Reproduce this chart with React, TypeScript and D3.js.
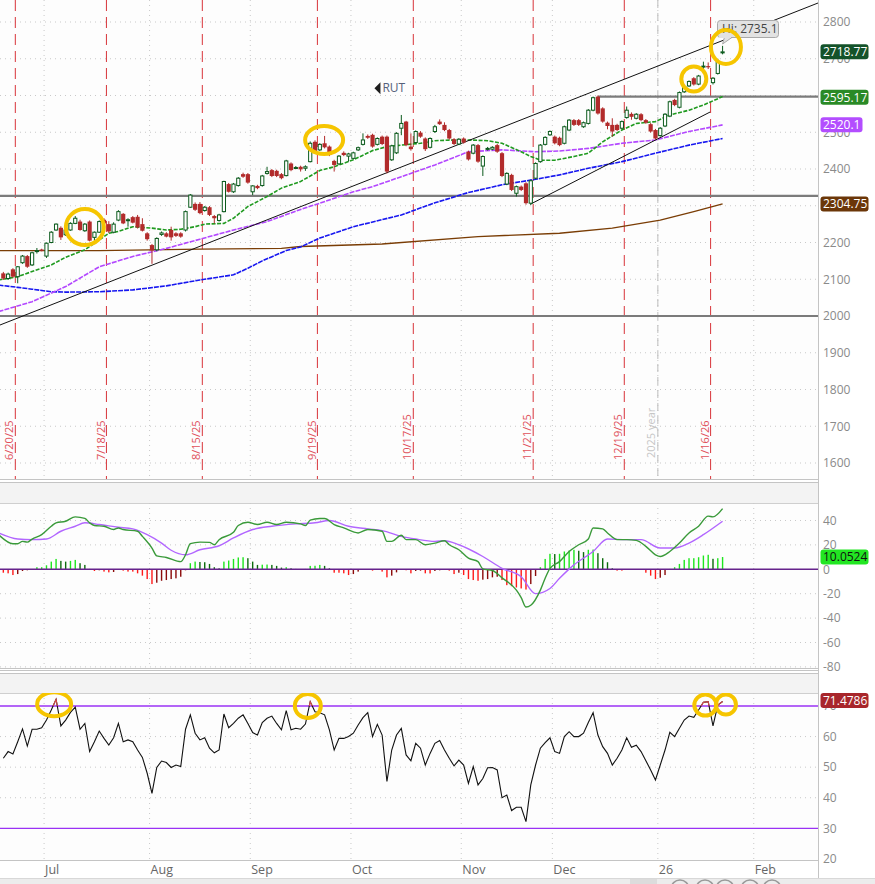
import React from "react";
import * as d3 from "d3";

// ---------- DATA ----------
const opens = [2116,2102,2127,2107,2145,2163,2139,2176,2181,2163,2200,2234,2240,2221,2234,2252,2257,2232,2257,2214,2228,2262,2250,2228,2261,2278,2261,2269,2270,2250,2225,2193,2180,2222,2225,2234,2225,2225,2234,2296,2305,2305,2287,2296,2272,2260,2284,2359,2338,2355,2386,2386,2338,2354,2355,2388,2397,2395,2386,2382,2415,2404,2406,2402,2420,2474,2452,2470,2461,2422,2414,2444,2435,2429,2452,2467,2490,2493,2467,2488,2488,2425,2444,2511,2529,2461,2472,2499,2483,2459,2502,2529,2520,2506,2481,2468,2483,2447,2443,2465,2408,2455,2454,2465,2443,2359,2384,2334,2352,2361,2307,2375,2420,2467,2493,2488,2485,2470,2506,2533,2533,2515,2524,2560,2597,2565,2526,2520,2520,2511,2540,2550,2538,2549,2533,2522,2506,2491,2517,2544,2588,2568,2610,2626,2647,2631,2678,2680,2635,2660,2716];
const highs = [2120,2118,2130,2136,2166,2166,2175,2185,2183,2200,2231,2252,2244,2238,2255,2272,2262,2253,2260,2230,2260,2266,2258,2255,2288,2280,2266,2272,2275,2266,2228,2196,2214,2230,2228,2243,2228,2228,2287,2332,2309,2310,2299,2299,2275,2278,2368,2362,2362,2378,2390,2389,2356,2357,2384,2406,2400,2398,2389,2425,2418,2408,2409,2410,2475,2478,2470,2490,2464,2425,2438,2448,2444,2447,2461,2497,2494,2496,2486,2491,2491,2466,2500,2547,2531,2497,2505,2503,2486,2486,2520,2535,2527,2509,2484,2484,2486,2450,2468,2468,2437,2460,2462,2468,2446,2391,2387,2355,2355,2364,2371,2418,2468,2489,2505,2491,2488,2518,2536,2536,2536,2529,2563,2597,2600,2568,2529,2538,2523,2532,2570,2554,2552,2552,2536,2525,2509,2514,2552,2586,2591,2611,2627,2641,2650,2656,2692,2690,2650,2700,2735.1];
const lows = [2098,2098,2104,2089,2142,2131,2136,2170,2176,2158,2198,2232,2207,2218,2232,2250,2232,2229,2203,2205,2226,2250,2226,2225,2258,2250,2243,2252,2238,2230,2205,2142,2176,2218,2214,2205,2215,2213,2230,2294,2286,2277,2284,2272,2252,2257,2282,2336,2335,2352,2376,2360,2329,2345,2352,2385,2378,2378,2372,2380,2394,2400,2393,2395,2418,2441,2449,2456,2435,2393,2411,2435,2420,2426,2449,2464,2482,2458,2464,2465,2388,2422,2441,2492,2462,2450,2469,2485,2449,2456,2498,2520,2503,2480,2465,2465,2469,2423,2440,2417,2381,2450,2451,2444,2378,2356,2340,2325,2340,2303,2302,2372,2417,2464,2490,2467,2462,2467,2503,2517,2517,2512,2521,2557,2548,2526,2508,2488,2503,2508,2537,2534,2535,2530,2523,2499,2480,2488,2514,2541,2571,2565,2607,2623,2627,2628,2669,2672,2630,2657,2712];
const closes = [2102,2114,2107,2134,2163,2134,2172,2178,2178,2198,2228,2250,2214,2234,2252,2266,2234,2250,2205,2228,2257,2252,2230,2250,2284,2252,2262,2254,2241,2232,2209,2178,2211,2226,2216,2214,2218,2216,2284,2329,2289,2280,2296,2275,2266,2275,2366,2338,2359,2375,2379,2363,2354,2348,2381,2393,2381,2381,2375,2422,2397,2404,2399,2406,2470,2444,2467,2459,2438,2411,2435,2438,2441,2444,2458,2479,2485,2461,2483,2468,2393,2463,2497,2524,2465,2454,2502,2488,2454,2483,2515,2522,2506,2483,2468,2481,2472,2426,2465,2420,2434,2456,2459,2447,2381,2388,2343,2352,2343,2307,2368,2415,2465,2486,2502,2470,2465,2515,2533,2520,2520,2526,2560,2594,2551,2529,2517,2502,2506,2529,2560,2542,2549,2533,2526,2502,2483,2511,2549,2583,2574,2608,2624,2638,2630,2653,2680,2678,2647,2692,2718.77];

const rsiValues = [52.9,55.1,54.3,58.3,62.5,56.9,62.4,62.4,62.9,65.4,68.7,72.2,63.5,65.4,67.9,69.6,62.4,64.3,55.1,58.3,61.8,59.4,57.2,59.6,64.3,58.3,58.9,58.3,55.6,53.2,48.0,41.4,49.9,52.0,51.5,49.9,50.7,50.2,62.4,67.1,61.1,58.9,59.6,56.2,54.7,55.6,67.4,62.9,64.3,66.0,67.1,64.3,61.3,60.5,64.6,66.0,66.7,64.3,62.2,68.5,62.2,62.7,62.4,64.1,71.4,68.1,67.8,67.1,62.2,55.6,59.4,59.4,60.0,61.1,63.8,66.2,67.8,60.0,64.0,60.5,45.3,55.6,60.5,62.7,54.0,52.1,57.8,56.2,50.7,54.5,57.8,58.7,55.6,52.9,50.4,52.3,50.7,44.7,50.2,44.2,46.3,49.8,49.9,49.1,40.0,40.9,35.8,36.9,36.9,32.2,44.2,50.7,56.2,58.0,59.6,55.1,54.5,60.0,61.6,60.0,60.0,61.1,64.6,67.8,60.5,56.7,54.5,50.7,52.9,55.6,59.6,56.5,57.2,55.1,52.1,49.1,45.8,50.7,55.6,61.4,60.0,62.7,65.4,66.7,66.3,68.7,71.2,71.4,63.5,70.3,71.4786];

const macdHist = [-2.8,-3.3,-4.7,-3.9,-1.4,-0.8,0.2,1.7,1.7,3.3,6.3,8.5,6.9,6.3,6.9,7.7,5.0,3.6,0.3,-1.4,-0.8,-1.9,-2.5,-2.2,-0.3,-1.1,-1.9,-1.9,-3.3,-5.2,-8.0,-12.1,-11.0,-9.4,-8.8,-8.0,-7.4,-6.1,-0.8,5.0,6.3,6.0,5.8,4.4,1.7,0.8,6.3,7.2,8.5,9.7,9.9,9.1,6.3,3.6,3.8,3.9,3.6,2.8,1.4,1.7,0.8,0.3,0.2,0.3,2.8,2.9,3.6,2.8,0.8,-2.8,-2.8,-3.3,-4.7,-3.9,-1.9,-0.5,-0.3,-1.1,-0.5,-1.9,-6.6,-5.2,-2.5,-0.5,-0.8,-3.3,-1.4,-1.1,-3.3,-3.4,-1.4,-0.8,-0.3,-1.1,-3.9,-2.8,-4.7,-8.0,-8.8,-9.4,-8.5,-8.0,-6.6,-6.1,-8.8,-13.0,-13.8,-14.9,-15.7,-16.6,-12.1,-5.5,1.7,8.5,12.7,12.5,12.7,14.6,15.4,16.0,15.2,14.1,16.0,16.2,13.2,9.1,5.8,0.8,-1.1,-1.1,-0.2,-0.1,0.1,-0.3,-2.8,-5.2,-8.0,-6.9,-4.7,0.3,1.7,4.4,7.7,9.1,9.1,9.9,11.3,11.9,8.6,9.1,10.0524];

const macdLine = [[-1,28.4],[2,21.0],[3,21],[4,22.9],[5,22.3],[6,24.8],[8,28.4],[10,35.3],[11,38.1],[13,39.4],[15,43.0],[17,41.7],[18,38.1],[19,35.9],[21,35.3],[23,32.6],[24,33.9],[25,32.6],[28,31.2],[29,27.0],[31,17.4],[32,11.0],[34,9.7],[37,6.3],[38,11.9],[39,21.0],[41,22.3],[43,22.1],[44,20.1],[45,24.3],[48,30.3],[49,35.9],[51,38.6],[53,36.7],[55,38.6],[57,36.7],[59,38.6],[62,37.2],[63,35.9],[64,40.3],[66,41.7],[67,41.7],[69,36.7],[71,33.9],[74,29.8],[76,32.6],[79,31.2],[80,22.9],[81,22.9],[83,27.9],[84,24.3],[86,24.3],[88,20.1],[90,21.5],[92,23.4],[93,20.1],[95,16.0],[97,9.1],[99,6.3],[100,0.3],[102,-1],[104,-7],[107,-17.1],[108,-23.2],[109,-30.9],[110,-29.5],[112,-17.1],[113,-7.4],[114,0.8],[116,6.3],[118,14.6],[120,20.1],[122,24.8],[123,33.9],[125,33.1],[126,29.8],[128,24.3],[130,24.3],[132,23.7],[134,18.8],[136,11.9],[137,10.5],[139,14.6],[141,21.5],[143,29.8],[145,35.3],[147,43.6],[148,43.0],[150,49.7]];
const signalLine = [[-1,29.8],[3,24.8],[6,24.3],[9,24.8],[12,31.2],[15,35.3],[17,38.1],[20,36.7],[24,34.5],[27,33.1],[30,28.4],[33,21.5],[35,15.6],[38,11.9],[41,16.0],[45,19.3],[48,25.7],[52,32.6],[56,35.3],[61,37.2],[65,38.1],[68,40.0],[72,35.3],[76,33.1],[79,31.7],[83,27.0],[86,24.8],[90,22.9],[92,23.4],[95,20.1],[100,10.5],[104,0.8],[108,-6.1],[111,-19.9],[114,-15.7],[116,-7.4],[119,3.6],[123,14.6],[126,24.8],[130,24.3],[133,24.3],[137,17.4],[140,17.4],[143,21.5],[146,28.4],[150,39.4]];

const maGreen = [[-1,2098],[3,2107],[6,2121],[10,2139],[13,2160],[17,2180],[20,2207],[22,2225],[24,2230],[27,2243],[31,2239],[34,2234],[37,2236],[40,2243],[42,2250],[46,2252],[48,2266],[51,2298],[55,2325],[58,2348],[62,2366],[66,2396],[69,2406],[73,2425],[77,2450],[80,2461],[83,2465],[87,2470],[90,2477],[94,2479],[97,2479],[101,2477],[104,2470],[108,2447],[110,2434],[112,2424],[115,2424],[119,2434],[122,2443],[125,2474],[129,2506],[132,2524],[136,2529],[139,2547],[143,2560],[146,2574],[150,2597]];
const maPurple = [[-1,2012],[6,2039],[13,2080],[20,2134],[27,2162],[34,2184],[41,2209],[48,2234],[55,2257],[62,2290],[66,2307],[73,2338],[77,2352],[83,2379],[90,2411],[97,2447],[104,2452],[111,2447],[116,2449],[122,2456],[129,2470],[136,2479],[143,2502],[150,2520]];
const maBlue = [[-1,2084],[3,2078],[6,2073],[10,2066],[13,2065],[20,2066],[27,2071],[34,2082],[41,2098],[48,2112],[51,2130],[54,2150],[59,2178],[62,2188],[66,2212],[73,2243],[83,2275],[90,2308],[97,2336],[104,2357],[111,2372],[116,2384],[122,2402],[129,2420],[136,2443],[143,2465],[150,2483]];
const maBrown = [[-1,2178],[20,2178],[41,2182],[58,2184],[62,2189],[79,2196],[99,2216],[116,2225],[127,2239],[137,2261],[144,2284],[150,2305]];

const priceTicks = [1600,1700,1800,1900,2000,2100,2200,2300,2400,2500,2700,2800];
const macdTicks = [40,20,0,-20,-40,-60,-80];
const rsiTicks = [70,60,50,40,30,20];
const monthStarts = [9,31,52,73,96,115,137,157];
const monthLabels = ["Jul","Aug","Sep","Oct","Nov","Dec","26","Feb"];
const opexIdx = [2,21,41,65,85,110,129,147];
const opexLabels = ["6/20/25","7/18/25","8/15/25","9/19/25","10/17/25","11/21/25","12/19/25","1/16/26"];
const levelValues = [2327,2000];
const resistance = { from: 124, value: 2597 };
const channelLine = [[-0.7,1975.5],[169.9,2851.7]];
const supportLine = [[110,2304.8],[147.4,2555.1]];
const priceCircles = [[17,2242],[66.9,2479],[144,2645],[150.7,2732]];
const rsiCircles = [[10.6,70.6],[63.5,70],[146.4,70.3],[150.7,70.5]];

// ---------- LAYOUT ----------
const W = 875, H = 884;
const PR = 818; // plot right edge
const FONT = "'Open Sans', 'Noto Sans', sans-serif";

export default function App() {
  const x = d3.scaleLinear().domain([0, 150]).range([3.33, 722.58]);
  const yP = d3.scaleLinear().domain([1600, 2800]).range([463, 22]);
  const yM = d3.scaleLinear().domain([0, 40]).range([569.3, 520.5]);
  const yR = d3.scaleLinear().domain([30, 70]).range([828.3, 706]);

  const mainTop = 0, mainBot = 479;
  const macdTop = 503, macdBot = 668;
  const rsiTop = 693, rsiBot = 860;

  const lineP = d3.line().x((d) => x(d[0])).y((d) => yP(d[1]));
  const lineM = d3.line().x((d) => x(d[0])).y((d) => yM(d[1])).curve(d3.curveMonotoneX);
  const lineR = d3.line().x((d, i) => x(i)).y((d) => yR(d));

  const gridCol = "#c9c9c9";
  const monthX = monthStarts.map((i) => x(i) - 2.4);

  const vGrid = (top, bot, key) =>
    monthX.map((mx, k) => (
      <line key={key + k} x1={mx} x2={mx} y1={top} y2={bot} stroke={gridCol} strokeDasharray="1,4" />
    ));

  const priceLabels = [
    { t: "2718.77", v: 2718.77, bg: "#14532a", fg: "#fff", w: 48 },
    { t: "2595.17", v: 2595.17, bg: "#2a8a26", fg: "#fff", w: 48 },
    { t: "2520.1", v: 2520.1, bg: "#b34dff", fg: "#fff", w: 42 },
    { t: "2304.75", v: 2304.75, bg: "#6b3608", fg: "#fff", w: 48 },
  ];

  const tag = (t, cy, bg, fg, w, key) => (
    <g key={key}>
      <rect x={820.5} y={cy - 7.5} width={w} height={15} rx={3} fill={bg} />
      <text x={823} y={cy} dy="0.36em" fontSize={12} fill={fg} fontFamily={FONT}>{t}</text>
    </g>
  );

  return (
    <div style={{ position: "absolute", left: 0, top: 0 }}>
      <svg width={W} height={H} viewBox={`0 0 ${W} ${H}`} style={{ display: "block", fontFamily: FONT }}>
        <defs>
          <clipPath id="clipMain"><rect x={0} y={mainTop} width={PR} height={mainBot - mainTop} /></clipPath>
          <clipPath id="clipMacd"><rect x={0} y={macdTop} width={PR} height={macdBot - macdTop} /></clipPath>
          <clipPath id="clipRsi"><rect x={0} y={rsiTop} width={PR} height={rsiBot - rsiTop} /></clipPath>
          <clipPath id="clipRsiHi"><rect x={0} y={rsiTop} width={PR} height={yR(70) - rsiTop} /></clipPath>
        </defs>
        <rect x={0} y={0} width={W} height={H} fill="#ffffff" />
        {/* plot backgrounds */}
        <rect x={0} y={mainTop} width={PR} height={mainBot - mainTop} fill="#fdfdfd" />
        <rect x={0} y={483} width={PR} height={20} fill="#f3f3f3" />
        <rect x={0} y={macdTop} width={PR} height={macdBot - macdTop} fill="#fdfdfd" />
        <rect x={0} y={673} width={PR} height={20} fill="#f3f3f3" />
        <rect x={0} y={rsiTop} width={PR} height={rsiBot - rsiTop} fill="#fdfdfd" />
        {/* separators */}
        <line x1={0} x2={PR} y1={479.5} y2={479.5} stroke="#c4c4c4" />
        <line x1={0} x2={PR} y1={482.5} y2={482.5} stroke="#c4c4c4" />
        <line x1={0} x2={PR} y1={503.5} y2={503.5} stroke="#cfcfcf" />
        <line x1={0} x2={PR} y1={668.5} y2={668.5} stroke="#c4c4c4" />
        <line x1={0} x2={PR} y1={670.5} y2={670.5} stroke="#c4c4c4" />
        <line x1={0} x2={PR} y1={673.5} y2={673.5} stroke="#c4c4c4" />
        <line x1={0} x2={PR} y1={693.5} y2={693.5} stroke="#cfcfcf" />
        <line x1={0} x2={PR} y1={860.5} y2={860.5} stroke="#c4c4c4" />
        <rect x={0} y={878} width={W} height={6} fill="#ececec" />
        <line x1={0} x2={W} y1={878.5} y2={878.5} stroke="#d8d8d8" />
        <rect x={630} y={879} width={27} height={5} fill="#dcdcdc" />
        {[680, 705, 725, 750, 772].map((cx, k) => (
          <circle key={"ic" + k} cx={cx} cy={889} r={9} fill="none" stroke="#9a9a9a" strokeWidth={1.5} />
        ))}
        <line x1={PR + 0.5} x2={PR + 0.5} y1={0} y2={878} stroke="#c4c4c4" />

        {/* ===== MAIN PANEL ===== */}
        <g clipPath="url(#clipMain)">
          {[...priceTicks, 2600].map((t) => (
            <line key={"pg" + t} x1={0} x2={PR} y1={yP(t)} y2={yP(t)} stroke={gridCol} strokeDasharray="1,4" />
          ))}
          {vGrid(mainTop, mainBot, "mg")}
          {/* year boundary */}
          <line x1={x(137) - 2.4} x2={x(137) - 2.4} y1={mainTop} y2={mainBot} stroke="#bdbdbd" strokeDasharray="8,5" />
          <text transform={`translate(${x(137) - 5},458) rotate(-90)`} fontSize={11} fill="#c6c6c6">2025 year</text>
          {/* OPEX lines */}
          {opexIdx.map((i, k) => (
            <g key={"op" + k}>
              <line x1={x(i) + 2.4} x2={x(i) + 2.4} y1={mainTop} y2={mainBot} stroke="#d8343a" strokeDasharray="11,6" strokeWidth={1} />
              <text transform={`translate(${x(i) + 0.5},460) rotate(-90)`} fontSize={11} fill="#e0505a">{opexLabels[k]}</text>
            </g>
          ))}
          {/* horizontal levels */}
          {levelValues.map((v) => (
            <line key={"lv" + v} x1={0} x2={PR} y1={yP(v)} y2={yP(v)} stroke="#7b7b7b" strokeWidth={2.2} />
          ))}
          <line x1={x(resistance.from)} x2={PR} y1={yP(resistance.value)} y2={yP(resistance.value)} stroke="#7b7b7b" strokeWidth={2.2} />
          {/* moving averages */}
          <path d={lineP(maBrown)} fill="none" stroke="#7a3d05" strokeWidth={1.4} />
          <path d={lineP(maBlue)} fill="none" stroke="#1717f0" strokeWidth={1.6} strokeDasharray="5,1" />
          <path d={lineP(maPurple)} fill="none" stroke="#b347ff" strokeWidth={1.6} strokeDasharray="5,1.2" />
          <path d={lineP(maGreen)} fill="none" stroke="#1f9a1f" strokeWidth={1.6} strokeDasharray="4,1.5" />
          {/* trend lines */}
          <path d={lineP(channelLine)} fill="none" stroke="#111" strokeWidth={1} />
          <path d={lineP(supportLine)} fill="none" stroke="#111" strokeWidth={1} />
          {/* candles */}
          {opens.map((o, i) => {
            const c = closes[i];
            const up = c >= o;
            const cx = x(i);
            const col = up ? "#0b5a1c" : "#b22b2b";
            const top = yP(Math.max(o, c));
            const bot = yP(Math.min(o, c));
            return (
              <g key={"c" + i}>
                <line x1={cx} x2={cx} y1={yP(highs[i])} y2={yP(lows[i])} stroke={col} strokeWidth={1} />
                {up ? (
                  <rect x={cx - 1.6} y={top} width={3.2} height={Math.max(bot - top, 1)} fill="#ffffff" stroke={col} strokeWidth={1} />
                ) : (
                  <rect x={cx - 2.1} y={top} width={4.2} height={Math.max(bot - top, 1.2)} fill={col} />
                )}
              </g>
            );
          })}
          {/* RUT annotation */}
          <path d={`M${x(77.4)},${yP(2620)} l6,-6 l0,12 z`} fill="#1e1e1e" />
          <text x={x(77.4) + 8} y={yP(2620)} dy="0.36em" fontSize={12} fill="#55607a">RUT</text>
          {/* Hi tooltip */}
          <polygon points={`${x(150) + 2},37 ${x(150) + 10},37 ${x(150)},44`} fill="#e2e2e2" stroke="#a9a9a9" strokeWidth={1} />
          <rect x={717.5} y={20.5} width={61} height={17} rx={3} fill="#e2e2e2" stroke="#a9a9a9" />
          <rect x={719} y={36} width={12} height={2} fill="#e2e2e2" />
          <text x={722} y={29} dy="0.36em" fontSize={12} fill="#444">Hi: 2735.1</text>
          {/* highlight circles */}
          {priceCircles.map((p, k) => {
            const r = [[19, 18], [19, 14], [12.5, 12.5], [15, 17]][k];
            return <ellipse key={"pc" + k} cx={x(p[0])} cy={yP(p[1])} rx={r[0]} ry={r[1]} fill="none" stroke="#f6c500" strokeWidth={4} />;
          })}
        </g>
        {/* price axis */}
        {priceTicks.map((t) => (
          <text key={"pt" + t} x={823} y={yP(t)} dy="0.36em" fontSize={12} fill="#8a8a8a">{t}</text>
        ))}
        {priceLabels.map((l, k) => tag(l.t, yP(l.v), l.bg, l.fg, l.w, "pl" + k))}

        {/* ===== MACD PANEL ===== */}
        <g clipPath="url(#clipMacd)">
          {macdTicks.filter((t) => t !== 0).map((t) => (
            <line key={"mg" + t} x1={0} x2={PR} y1={yM(t)} y2={yM(t)} stroke={gridCol} strokeDasharray="1,4" />
          ))}
          {vGrid(macdTop, macdBot, "mv")}
          {macdHist.map((v, i) => {
            const prev = i > 0 ? macdHist[i - 1] : v;
            const col = v >= 0 ? (v >= prev ? "#1ee61e" : "#0b6b0b") : (v <= prev ? "#ff1a1a" : "#8b0a0a");
            const y0 = yM(0), y1 = yM(v);
            return <rect key={"h" + i} x={x(i) - 0.7} y={Math.min(y0, y1)} width={1.4} height={Math.abs(y1 - y0)} fill={col} />;
          })}
          <line x1={0} x2={PR} y1={yM(0)} y2={yM(0)} stroke="#66238c" strokeWidth={1.4} />
          <path d={lineM(signalLine)} fill="none" stroke="#b266ff" strokeWidth={1.4} />
          <path d={lineM(macdLine)} fill="none" stroke="#3a9a3a" strokeWidth={1.4} />
        </g>
        {macdTicks.map((t) => (
          <text key={"mt" + t} x={823} y={yM(t)} dy="0.36em" fontSize={12} fill="#8a8a8a">{t}</text>
        ))}
        {tag("10.0524", yM(10.0524), "#22e622", "#111", 48, "macdTag")}

        {/* ===== RSI PANEL ===== */}
        <g clipPath="url(#clipRsi)">
          {[60, 50, 40].map((t) => (
            <line key={"rg" + t} x1={0} x2={PR} y1={yR(t)} y2={yR(t)} stroke={gridCol} strokeDasharray="1,4" />
          ))}
          {vGrid(rsiTop, rsiBot, "rv")}
          <line x1={0} x2={PR} y1={yR(70)} y2={yR(70)} stroke="#9a32f5" strokeWidth={1.3} />
          <line x1={0} x2={PR} y1={yR(30)} y2={yR(30)} stroke="#9a32f5" strokeWidth={1.3} />
          <path d={lineR(rsiValues)} fill="none" stroke="#111" strokeWidth={1.1} />
          <path d={lineR(rsiValues)} fill="none" stroke="#d44a4a" strokeWidth={1.1} clipPath="url(#clipRsiHi)" />
          {rsiCircles.map((p, k) => {
            const r = [[17, 12], [13, 12], [11, 10.5], [10, 10]][k];
            return <ellipse key={"rc" + k} cx={x(p[0])} cy={yR(p[1])} rx={r[0]} ry={r[1]} fill="none" stroke="#f6c500" strokeWidth={4} />;
          })}
        </g>
        {rsiTicks.map((t) => (
          <text key={"rt" + t} x={823} y={yR(t)} dy="0.36em" fontSize={12} fill="#8a8a8a">{t}</text>
        ))}
        {tag("71.4786", yR(71.4786) - 1, "#a8262b", "#fff", 48, "rsiTag")}

        {/* date axis */}
        {monthX.map((mx, k) => (
          <text key={"ml" + k} x={mx + 1} y={874} fontSize={12.5} fill="#666">{monthLabels[k]}</text>
        ))}
      </svg>
    </div>
  );
}
